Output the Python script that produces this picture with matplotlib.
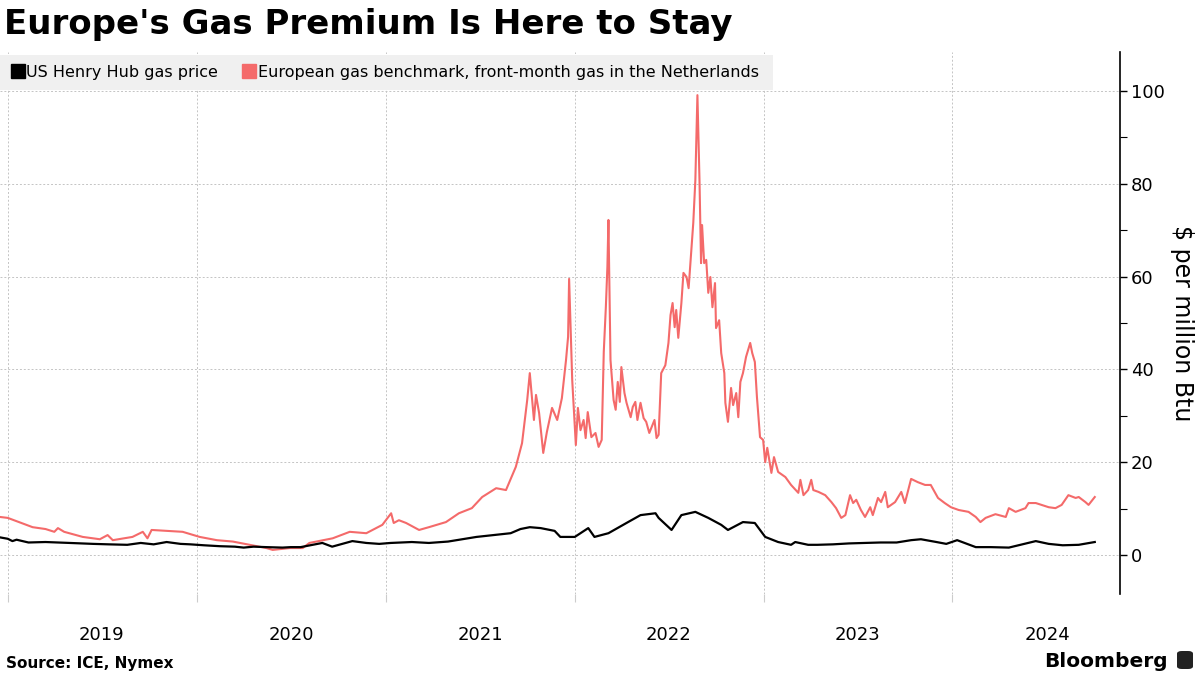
import pandas as pd
import matplotlib.pyplot as plt
from matplotlib.lines import Line2D
from matplotlib.patches import Rectangle, FancyBboxPatch

plt.rcParams['font.family'] = ['DejaVu Sans']

# European gas benchmark (TTF front-month), $ per million Btu
ttf_dates = [
    '2018-12-17', '2019-01-01', '2019-01-18', '2019-02-18', '2019-03-15', '2019-04-01',
    '2019-04-08', '2019-04-20', '2019-05-26', '2019-06-28', '2019-07-13', '2019-07-23',
    '2019-08-30', '2019-09-19', '2019-09-28', '2019-10-06', '2019-11-04', '2019-12-05',
    '2020-01-07', '2020-02-09', '2020-03-11', '2020-04-13', '2020-05-15', '2020-05-27',
    '2020-06-29', '2020-07-24', '2020-08-06', '2020-09-20', '2020-10-23', '2020-11-24',
    '2020-12-25', '2021-01-11', '2021-01-16', '2021-01-26', '2021-02-09', '2021-03-06',
    '2021-03-25', '2021-04-27', '2021-05-22', '2021-06-16', '2021-07-06', '2021-08-02',
    '2021-08-21', '2021-09-09', '2021-09-21', '2021-10-01', '2021-10-06', '2021-10-14',
    '2021-10-18', '2021-10-24', '2021-11-01', '2021-11-08', '2021-11-18', '2021-11-28',
    '2021-12-07', '2021-12-15', '2021-12-19', '2021-12-21', '2021-12-27', '2022-01-03',
    '2022-01-07', '2022-01-12', '2022-01-18', '2022-01-22', '2022-01-26', '2022-02-02',
    '2022-02-10', '2022-02-16', '2022-02-22', '2022-02-26', '2022-03-02', '2022-03-05',
    '2022-03-07', '2022-03-11', '2022-03-17', '2022-03-21', '2022-03-25', '2022-03-29',
    '2022-04-01', '2022-04-07', '2022-04-11', '2022-04-19', '2022-04-23', '2022-04-28',
    '2022-05-02', '2022-05-08', '2022-05-14', '2022-05-19', '2022-05-25', '2022-05-29',
    '2022-06-04', '2022-06-08', '2022-06-12', '2022-06-17', '2022-06-25', '2022-07-01',
    '2022-07-05', '2022-07-09', '2022-07-13', '2022-07-16', '2022-07-20', '2022-07-26',
    '2022-07-30', '2022-08-05', '2022-08-09', '2022-08-12', '2022-08-18', '2022-08-22',
    '2022-08-26', '2022-08-30', '2022-09-02', '2022-09-04', '2022-09-08', '2022-09-12',
    '2022-09-16', '2022-09-20', '2022-09-24', '2022-09-29', '2022-10-01', '2022-10-07',
    '2022-10-11', '2022-10-17', '2022-10-19', '2022-10-24', '2022-10-30', '2022-11-03',
    '2022-11-09', '2022-11-13', '2022-11-17', '2022-11-22', '2022-11-28', '2022-12-06',
    '2022-12-10', '2022-12-15', '2022-12-19', '2022-12-25', '2022-12-31', '2023-01-04',
    '2023-01-08', '2023-01-16', '2023-01-21', '2023-01-29', '2023-02-12', '2023-02-23',
    '2023-03-09', '2023-03-13', '2023-03-19', '2023-03-28', '2023-04-03', '2023-04-07',
    '2023-04-17', '2023-04-30', '2023-05-12', '2023-05-21', '2023-05-31', '2023-06-08',
    '2023-06-17', '2023-06-23', '2023-06-29', '2023-07-08', '2023-07-16', '2023-07-26',
    '2023-07-31', '2023-08-10', '2023-08-16', '2023-08-24', '2023-08-29', '2023-09-12',
    '2023-09-24', '2023-10-01', '2023-10-13', '2023-10-26', '2023-11-09', '2023-11-20',
    '2023-12-04', '2023-12-17', '2023-12-29', '2024-01-13', '2024-02-01', '2024-02-15',
    '2024-02-24', '2024-03-05', '2024-03-24', '2024-04-13', '2024-04-19', '2024-05-02',
    '2024-05-21', '2024-05-27', '2024-06-10', '2024-06-21', '2024-07-05', '2024-07-18',
    '2024-07-30', '2024-08-12', '2024-08-26', '2024-09-01', '2024-09-14', '2024-09-20',
    '2024-10-02',
]
ttf_values = [
    8.2, 8.0, 7.3, 6.0, 5.6, 5.0,
    5.8, 5.0, 3.9, 3.4, 4.3, 3.2,
    3.9, 5.0, 3.6, 5.4, 5.2, 5.0,
    3.9, 3.2, 2.9, 2.2, 1.5, 1.1,
    1.5, 1.5, 2.6, 3.6, 5.0, 4.7,
    6.5, 9.0, 6.9, 7.5, 6.9, 5.4,
    6.0, 7.1, 9.0, 10.1, 12.5, 14.4,
    14.0, 19.0, 24.1, 33.4, 39.2, 29.1,
    34.5, 30.6, 22.0, 26.5, 31.7, 29.1,
    33.8, 42.0, 47.0, 59.5, 37.7, 23.7,
    31.7, 26.9, 29.1, 25.2, 30.8, 25.4,
    26.3, 23.3, 24.8, 43.8, 53.4, 62.1,
    72.2, 42.0, 33.4, 31.3, 37.3, 33.0,
    40.5, 34.9, 32.8, 29.7, 31.9, 33.0,
    29.1, 32.8, 29.5, 28.7, 26.3, 27.4,
    29.1, 25.2, 25.9, 39.2, 40.9, 45.7,
    51.7, 54.3, 49.1, 52.8, 46.8, 54.3,
    60.8, 59.9, 57.5, 62.1, 71.6, 80.8,
    99.1, 80.8, 62.9, 71.1, 62.9, 63.6,
    56.5, 59.9, 53.4, 58.6, 48.9, 50.6,
    43.5, 39.2, 32.8, 28.7, 36.0, 32.3,
    34.9, 29.7, 37.3, 39.2, 42.7, 45.7,
    43.5, 41.6, 34.1, 25.4, 24.8, 20.0,
    23.1, 17.7, 21.1, 17.9, 16.8, 15.1,
    13.4, 16.2, 12.9, 14.0, 16.2, 14.0,
    13.6, 12.9, 11.4, 10.1, 8.0, 8.6,
    12.9, 11.2, 11.9, 9.7, 8.2, 10.3,
    8.6, 12.3, 11.4, 13.6, 10.3, 11.4,
    13.6, 11.2, 16.4, 15.7, 15.1, 15.1,
    12.3, 11.2, 10.3, 9.7, 9.3, 8.2,
    7.1, 8.0, 8.8, 8.2, 10.1, 9.3,
    10.1, 11.2, 11.2, 10.8, 10.3, 10.1,
    10.8, 12.9, 12.3, 12.5, 11.4, 10.8,
    12.5,
]

# US Henry Hub gas price, $ per million Btu
hh_dates = [
    '2018-12-17', '2019-01-01', '2019-01-10', '2019-01-18', '2019-02-10', '2019-03-15',
    '2019-05-01', '2019-06-15', '2019-07-15', '2019-08-20', '2019-09-15', '2019-10-10',
    '2019-11-04', '2019-12-01', '2019-12-20', '2020-01-15', '2020-02-15', '2020-03-15',
    '2020-04-01', '2020-04-20', '2020-05-15', '2020-06-15', '2020-07-01', '2020-07-20',
    '2020-08-31', '2020-09-19', '2020-10-28', '2020-11-24', '2020-12-19', '2021-01-10',
    '2021-02-20', '2021-03-25', '2021-05-01', '2021-06-25', '2021-08-30', '2021-09-18',
    '2021-10-06', '2021-10-27', '2021-11-23', '2021-12-04', '2022-01-01', '2022-01-27',
    '2022-02-08', '2022-03-07', '2022-04-14', '2022-05-08', '2022-06-06', '2022-06-12',
    '2022-07-07', '2022-07-26', '2022-08-22', '2022-09-16', '2022-10-11', '2022-10-24',
    '2022-11-22', '2022-12-15', '2023-01-04', '2023-01-29', '2023-02-23', '2023-03-03',
    '2023-03-28', '2023-04-15', '2023-05-15', '2023-06-15', '2023-07-15', '2023-08-15',
    '2023-09-15', '2023-10-13', '2023-11-01', '2023-12-01', '2023-12-20', '2024-01-10',
    '2024-02-15', '2024-03-15', '2024-04-19', '2024-06-10', '2024-07-05', '2024-08-01',
    '2024-09-01', '2024-10-02',
]
hh_values = [
    3.8, 3.5, 3.0, 3.3, 2.7, 2.8,
    2.6, 2.4, 2.3, 2.2, 2.6, 2.3,
    2.8, 2.4, 2.3, 2.1, 1.9, 1.8,
    1.6, 1.8, 1.7, 1.6, 1.7, 1.7,
    2.6, 1.8, 3.0, 2.6, 2.4, 2.6,
    2.8, 2.6, 2.9, 3.9, 4.7, 5.6,
    6.0, 5.8, 5.2, 3.9, 3.9, 5.8,
    3.9, 4.7, 7.1, 8.6, 9.0, 8.0,
    5.4, 8.6, 9.3, 8.0, 6.5, 5.4,
    7.1, 6.9, 3.9, 2.8, 2.2, 2.8,
    2.2, 2.2, 2.3, 2.5, 2.6, 2.7,
    2.7, 3.2, 3.4, 2.8, 2.4, 3.2,
    1.7, 1.7, 1.6, 3.0, 2.4, 2.1,
    2.2, 2.8,
]

years = [2019, 2020, 2021, 2022, 2023, 2024]
y_ticks = [0, 20, 40, 60, 80, 100]

ttf = pd.Series(ttf_values, index=pd.to_datetime(ttf_dates))
hh = pd.Series(hh_values, index=pd.to_datetime(hh_dates))

red = '#f46a6a'

fig = plt.figure(figsize=(12, 6.75), dpi=100)
ax = fig.add_axes([0.0, 0.12, 0.933, 0.803])

ax.plot(ttf.index, ttf.values, color=red, lw=1.5, zorder=3)
ax.plot(hh.index, hh.values, color='black', lw=1.6, zorder=4)

ax.set_xlim(pd.Timestamp('2018-12-17'), pd.Timestamp('2024-11-19'))
ax.set_ylim(-8.4, 108.4)

# y axis on the right
ax.yaxis.tick_right()
ax.yaxis.set_label_position('right')
ax.set_yticks(y_ticks)
ax.set_yticks([10, 30, 50, 70, 90], minor=True)
ax.tick_params(axis='y', which='major', length=5, width=1, labelsize=13, pad=3)
ax.tick_params(axis='y', which='minor', length=5, width=0.8)
ax.set_ylabel('$ per million Btu', rotation=270, fontsize=17, va='bottom')
ax.yaxis.set_label_coords(1.045, 0.5)

# x axis: ticks at year starts, labels centred in each year
ax.set_xticks([pd.Timestamp(f'{y}-01-01') for y in years])
ax.set_xticks([pd.Timestamp(f'{y}-07-02') for y in years], minor=True)
ax.set_xticklabels([])
ax.set_xticklabels([str(y) for y in years], minor=True)
ax.tick_params(axis='x', which='major', length=6, color='#cccccc', width=0.8)
ax.tick_params(axis='x', which='minor', length=0, labelsize=13, pad=23)

for s in ['left', 'top', 'bottom']:
    ax.spines[s].set_visible(False)
ax.spines['right'].set_linewidth(1.2)

ax.grid(True, which='major', color='#c4c4c4', linestyle=(0, (2, 2)), lw=0.7)
ax.set_axisbelow(True)

# legend on a grey band
fig.patches.append(Rectangle((0.0, 1 - 90 / 675), 773 / 1200, 35 / 675,
                             transform=fig.transFigure, facecolor='#f0f0f0',
                             edgecolor='none', zorder=0))
handles = [Line2D([], [], marker='s', ls='none', color='black', markersize=10),
           Line2D([], [], marker='s', ls='none', color=red, markersize=10)]
fig.legend(handles, ['US Henry Hub gas price',
                     'European gas benchmark, front-month gas in the Netherlands'],
           loc='center left', bbox_to_anchor=(0.002, 1 - 72.5 / 675), ncol=2,
           frameon=False, fontsize=11.5, handletextpad=0.1, columnspacing=1.5,
           handlelength=0.9, borderpad=0)

fig.text(0.003, 0.988, "Europe's Gas Premium Is Here to Stay", fontsize=24.5,
         fontweight='bold', va='top', ha='left')
fig.text(0.005, 0.006, 'Source: ICE, Nymex', fontsize=11, fontweight='bold',
         va='bottom', ha='left')
fig.text(0.973, 0.006, 'Bloomberg', fontsize=14.5, fontweight='bold',
         va='bottom', ha='right')
fig.patches.append(FancyBboxPatch((1177 / 1200, 6 / 675), 16 / 1200, 18 / 675,
                                  boxstyle='round,pad=0,rounding_size=0.004',
                                  transform=fig.transFigure, facecolor='#222222',
                                  edgecolor='none'))

fig.savefig('out.png', dpi=100)
